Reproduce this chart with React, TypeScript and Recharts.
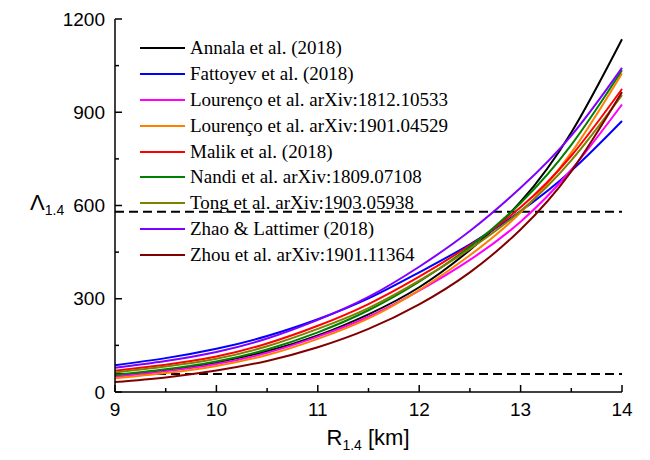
import React from "react";
import { LineChart, Line, XAxis, YAxis, ReferenceLine } from "recharts";

const radius = [9, 9.5, 10, 10.5, 11, 11.5, 12, 12.5, 13, 13.5, 14];

const annala = [50, 69, 95, 131, 182, 250, 337, 457, 612, 835, 1135];
const fattoyev = [86, 109, 139, 180, 234, 301, 385, 475, 582, 712, 872];
const lourenco1812 = [50, 67, 90, 126, 178, 242, 326, 425, 548, 715, 925];
const lourenco1901 = [44, 61, 84, 119, 171, 237, 328, 440, 577, 770, 1025];
const malik = [68, 88, 114, 156, 213, 283, 371, 472, 594, 760, 975];
const nandi = [55, 73, 98, 137, 192, 263, 355, 467, 608, 795, 1035];
const tong = [63, 82, 107, 147, 203, 270, 358, 460, 582, 745, 955];
const zhao = [78, 100, 129, 172, 232, 306, 403, 518, 657, 825, 1043];
const zhou = [32, 47, 69, 100, 144, 203, 282, 385, 523, 710, 965];

const bounds = [58, 580];
const xTicks = [9, 9.5, 10, 10.5, 11, 11.5, 12, 12.5, 13, 13.5, 14];
const yTicks = [0, 150, 300, 450, 600, 750, 900, 1050, 1200];

const series = [
  { key: "annala", name: "Annala et al. (2018)", color: "#000000", values: annala },
  { key: "fattoyev", name: "Fattoyev et al. (2018)", color: "#0000ff", values: fattoyev },
  { key: "lourenco1812", name: "Lourenço et al. arXiv:1812.10533", color: "#ff00ff", values: lourenco1812 },
  { key: "lourenco1901", name: "Lourenço et al. arXiv:1901.04529", color: "#ff8000", values: lourenco1901 },
  { key: "malik", name: "Malik et al. (2018)", color: "#ff0000", values: malik },
  { key: "nandi", name: "Nandi et al. arXiv:1809.07108", color: "#008000", values: nandi },
  { key: "tong", name: "Tong et al. arXiv:1903.05938", color: "#808000", values: tong },
  { key: "zhao", name: "Zhao & Lattimer (2018)", color: "#8000ff", values: zhao },
  { key: "zhou", name: "Zhou et al. arXiv:1901.11364", color: "#800000", values: zhou },
];

const data = radius.map((r, i) => {
  const row: Record<string, number> = { r };
  series.forEach((s) => (row[s.key] = s.values[i]));
  return row;
});

const FONT = "'Liberation Sans', Arial, sans-serif";
const SERIF = "'Liberation Serif', 'Times New Roman', serif";

function BottomTick({ x, y, payload }: any) {
  const major = Number.isInteger(payload.value);
  return (
    <g>
      <line x1={x} y1={y} x2={x} y2={y - (major ? 7 : 4)} stroke="#000" strokeWidth={1.5} />
      {major && (
        <text x={x} y={y + 24} textAnchor="middle" fontSize={19} fontFamily={FONT} fill="#000">
          {payload.value}
        </text>
      )}
    </g>
  );
}

function TopTick({ x, y, payload }: any) {
  const major = Number.isInteger(payload.value);
  return <line x1={x} y1={y} x2={x} y2={y + (major ? 7 : 4)} stroke="#000" strokeWidth={1.5} />;
}

function LeftTick({ x, y, payload }: any) {
  const major = payload.value % 300 === 0;
  return (
    <g>
      <line x1={x} y1={y} x2={x + (major ? 7 : 4)} y2={y} stroke="#000" strokeWidth={1.5} />
      {major && (
        <text x={x - 10} y={y} dy="0.35em" textAnchor="end" fontSize={19} fontFamily={FONT} fill="#000">
          {payload.value}
        </text>
      )}
    </g>
  );
}

function RightTick({ x, y, payload }: any) {
  const major = payload.value % 300 === 0;
  return <line x1={x} y1={y} x2={x - (major ? 7 : 4)} y2={y} stroke="#000" strokeWidth={1.5} />;
}

export default function App() {
  return (
    <div style={{ position: "absolute", left: 0, top: 0, width: 650, height: 460, background: "#fff" }}>
      <LineChart width={650} height={460} data={data} margin={{ top: 19, right: 28, bottom: 38, left: 55 }}>
        <XAxis
          dataKey="r"
          type="number"
          domain={[9, 14]}
          ticks={xTicks}
          interval={0}
          tickSize={0}
          tickMargin={0}
          height={30}
          axisLine={{ stroke: "#000", strokeWidth: 1.5 }}
          tickLine={false}
          tick={<BottomTick />}
        />
        <XAxis
          xAxisId="top"
          orientation="top"
          type="number"
          domain={[9, 14]}
          ticks={xTicks}
          interval={0}
          tickSize={0}
          tickMargin={0}
          height={0}
          axisLine={{ stroke: "#000", strokeWidth: 1.5 }}
          tickLine={false}
          tick={<TopTick />}
        />
        <YAxis
          type="number"
          domain={[0, 1200]}
          ticks={yTicks}
          interval={0}
          tickSize={0}
          tickMargin={0}
          width={60}
          axisLine={{ stroke: "#000", strokeWidth: 1.5 }}
          tickLine={false}
          tick={<LeftTick />}
        />
        <YAxis
          yAxisId="right"
          orientation="right"
          type="number"
          domain={[0, 1200]}
          ticks={yTicks}
          interval={0}
          tickSize={0}
          tickMargin={0}
          width={0}
          axisLine={{ stroke: "#000", strokeWidth: 1.5 }}
          tickLine={false}
          tick={<RightTick />}
        />
        {bounds.map((b) => (
          <ReferenceLine key={b} y={b} stroke="#000" strokeWidth={2} strokeDasharray="9 5" />
        ))}
        {series.map((s) => (
          <Line
            key={s.key}
            dataKey={s.key}
            type="natural"
            stroke={s.color}
            strokeWidth={2}
            dot={false}
            isAnimationActive={false}
          />
        ))}
      </LineChart>

      <div style={{ position: "absolute", left: 140, top: 35, fontFamily: SERIF, fontSize: 19, color: "#000" }}>
        {series.map((s) => (
          <div key={s.key} style={{ display: "flex", alignItems: "center", height: 25.9 }}>
            <div style={{ width: 45, height: 2, background: s.color, marginRight: 5 }} />
            <span style={{ whiteSpace: "nowrap" }}>{s.name}</span>
          </div>
        ))}
      </div>

      <div style={{ position: "absolute", left: 30, top: 190, fontFamily: FONT, fontSize: 22 }}>
        Λ<sub style={{ fontSize: 14 }}>1.4</sub>
      </div>
      <div
        style={{
          position: "absolute",
          left: 0,
          width: 736,
          top: 425,
          textAlign: "center",
          fontFamily: FONT,
          fontSize: 22,
        }}
      >
        R<sub style={{ fontSize: 14 }}>1.4</sub> [km]
      </div>
    </div>
  );
}
